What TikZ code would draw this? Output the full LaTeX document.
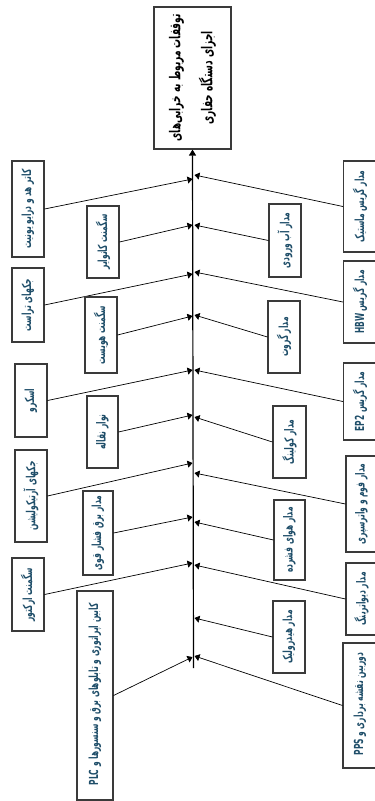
\documentclass[tikz,border=0pt]{standalone}
\usepackage{fontspec}
\usetikzlibrary{arrows.meta}
\TeXXeTstate=1
\newfontfamily\arabicfont[Script=Arabic,FakeStretch=0.6]{DejaVu Sans}
\definecolor{FishLine}{HTML}{3A3A3A}
\definecolor{FishText}{HTML}{1F4E69}
\tikzset{
  causebox/.style={draw=FishLine,line width=1.1pt,rotate=90,inner sep=1pt,
    text=FishText,font=\fontsize{12.5}{14}\selectfont\arabicfont\bfseries},
  headbox/.style={draw=FishLine,line width=1.1pt,rotate=90,inner sep=2pt,
    align=center,font=\fontsize{15}{32}\selectfont\arabicfont\bfseries},
  bone/.style={line width=0.7pt,-{Triangle[length=5pt,width=7pt]}},
  spine/.style={line width=1.2pt,-{Triangle[length=6pt,width=7pt]}}
}
\begin{document}
\begin{tikzpicture}[x=1pt,y=-1pt]
  \useasboundingbox (0,0) rectangle (375,801);

  \node[headbox,minimum width=142pt,minimum height=77pt] (head) at (192.5,78)
    {\beginR توقفات مربوط به خرابی‌های\endR\\\beginR اجزای دستگاه حفاری\endR};
  \coordinate (tail) at (193.5,668);
  \draw[spine] (tail) -- (head.west);

  % causes on the left of the spine
  \foreach \nm/\x/\y/\len/\thk/\sy/\txt in {
    LO1/28/209/96/32/179/کاتر هد و درایو یونیت,
    LI1/103/242/72/32/225/سگمنت کانوایر,
    LO2/28/305/74/32/274/جکهای تراست,
    LI2/101/335/76/32/316/سگمنت هویست,
    LO3/31/400.5/73/32/370/اسکرو,
    LI3/102.5/432/72/31/415/نوار نقاله,
    LO4/31/496/92/32/463/جکهای آرتیکولیشن,
    LI4/98/533/84/30/517/مدار برق فشار قوی,
    LO5/28/594.5/73/32/563/سگمنت ارکتور,
    LI5/95/695.5/209/36/657/کابین اپراتوری و تابلوهای برق و سنسورها و \beginL PLC\endL{}
  }{
    \node[causebox,minimum width=\len pt,minimum height=\thk pt] (\nm) at (\x,\y)
      {\beginR\txt\endR};
    \coordinate (s\nm) at (192.5,\sy);
    \draw[bone] (\nm.south) -- (s\nm);
  }

  % causes on the right of the spine
  \foreach \nm/\x/\y/\len/\thk/\sy/\txt in {
    RO1/360/206.5/91/33/175/مدار گریس ماستیک,
    RI1/285/240.5/73/32/225/مدار آب ورودی,
    RO2/360/302/82/33/272/مدار گریس \beginL HBW\endL{},
    RI2/284/337/72/32/315/مدار گروت,
    RO3/360/401.5/77/33/370/مدار گریس \beginL EP2\endL{},
    RI3/289.5/442/72/33/417/مدار کولینگ,
    RO4/361.5/504/96/31/473/مدار فوم و واترسپری,
    RI4/289.5/540/80/31/522/مدار هوای فشرده,
    RO5/361.5/599/72/31/565/مدار دیواترینگ,
    RI5/289/637/72/32/618/مدار هیدرولیک,
    RO6/360/705.5/125/34/656/دوربین نقشه برداری و \beginL PPS\endL{}
  }{
    \node[causebox,minimum width=\len pt,minimum height=\thk pt] (\nm) at (\x,\y)
      {\beginR\txt\endR};
    \coordinate (s\nm) at (194.5,\sy);
    \draw[bone] (\nm.north) -- (s\nm);
  }
\end{tikzpicture}
\end{document}
